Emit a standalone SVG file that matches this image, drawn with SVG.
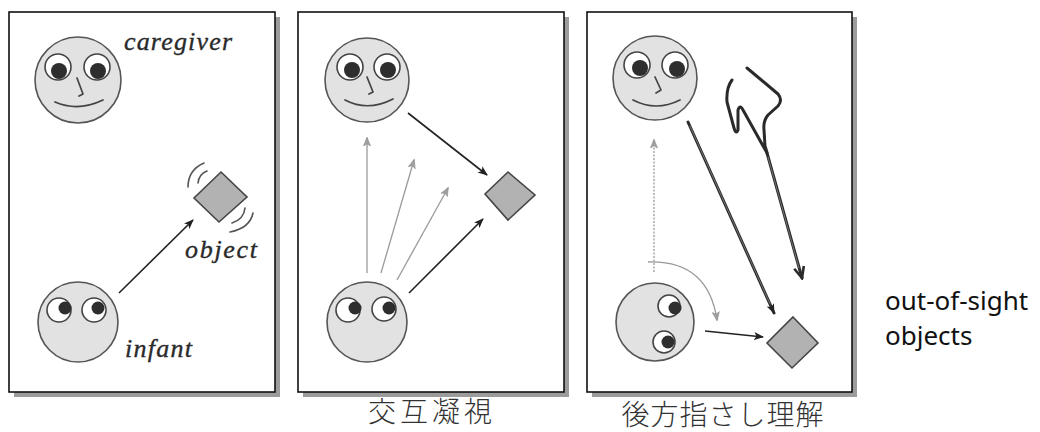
<svg xmlns="http://www.w3.org/2000/svg" width="1040" height="432" viewBox="0 0 1040 432">
  <style>
    .panel { fill: #fff; stroke: #111; stroke-width: 1.6; }
    .shadow { fill: #9c9c9c; }
    .face { fill: #e2e2e2; stroke: #555; stroke-width: 1.6; }
    .eye { fill: #fff; stroke: #444; stroke-width: 1.6; }
    .pupil { fill: #2e2e2e; }
    .feat { fill: none; stroke: #444; stroke-width: 1.7; stroke-linecap: round; stroke-linejoin: round; }
    .obj { fill: #b2b2b2; stroke: #444; stroke-width: 1.6; }
    .wave { fill: none; stroke: #555; stroke-width: 1.6; stroke-linecap: round; }
    .gaze { fill: none; stroke: #222; stroke-width: 1.6; }
    .gaze-soft { fill: none; stroke: #9a9a9a; stroke-width: 1.3; }
    .point { fill: none; stroke: #2a2a2a; stroke-width: 3; stroke-linecap: round; }
    .point-in { fill: none; stroke: #888; stroke-width: 0.8; stroke-linecap: round; }
    .hand { fill: none; stroke: #2a2a2a; stroke-width: 3; stroke-linecap: round; stroke-linejoin: round; }
    .lbl { font-family: "Liberation Serif", serif; font-style: italic; font-size: 26px; fill: #2a2a2a; stroke: #2a2a2a; stroke-width: 0.35; }
    .cap { font-family: "Noto Sans CJK JP", sans-serif; font-weight: 300; font-size: 28px; fill: #333; }
    .note { font-family: "Noto Sans", "Open Sans", sans-serif; font-size: 26px; fill: #111; }
  </style>
  <defs>
    <marker id="ah" viewBox="0 0 10 8" refX="9" refY="4" markerWidth="10" markerHeight="8" markerUnits="userSpaceOnUse" orient="auto">
      <path d="M0,0 L10,4 L0,8 L2.5,4 Z" fill="#222"/>
    </marker>
    <marker id="ah-soft" viewBox="0 0 10 8" refX="9" refY="4" markerWidth="9" markerHeight="8" markerUnits="userSpaceOnUse" orient="auto">
      <path d="M0,0 L10,4 L0,8 L2.5,4 Z" fill="#a0a0a0" stroke="#888" stroke-width="0.6"/>
    </marker>
    <marker id="ah-bold" viewBox="0 0 14 12" refX="12" refY="6" markerWidth="14" markerHeight="12" markerUnits="userSpaceOnUse" orient="auto">
      <path d="M1,1 L12,6 L1,11" fill="none" stroke="#2a2a2a" stroke-width="2.6" stroke-linejoin="miter"/>
    </marker>
  </defs>

  <!-- panel frames with drop shadow -->
  <g id="frames">
    <rect class="shadow" x="14" y="17" width="266" height="380"/>
    <rect class="panel" x="9" y="12" width="266" height="380"/>
    <rect class="shadow" x="303" y="17" width="266" height="380"/>
    <rect class="panel" x="298" y="12" width="266" height="380"/>
    <rect class="shadow" x="592" y="17" width="265" height="380"/>
    <rect class="panel" x="587" y="12" width="265" height="380"/>
  </g>

  <!-- connectors -->
  <g id="connectors">
    <!-- panel 1 -->
    <line class="gaze" x1="119" y1="293" x2="193" y2="220" marker-end="url(#ah)"/>
    <!-- panel 2 -->
    <line class="gaze" x1="408" y1="113" x2="487" y2="175" marker-end="url(#ah)"/>
    <line class="gaze-soft" x1="367" y1="273" x2="367" y2="138" marker-end="url(#ah-soft)"/>
    <line class="gaze-soft" x1="381" y1="273" x2="414" y2="160" marker-end="url(#ah-soft)"/>
    <line class="gaze-soft" x1="397" y1="280" x2="448" y2="188" marker-end="url(#ah-soft)"/>
    <line class="gaze" x1="409" y1="293" x2="483" y2="219" marker-end="url(#ah)"/>
    <!-- panel 3 -->
    <line class="gaze-soft" x1="654" y1="272" x2="654" y2="140" stroke-dasharray="2 1.5" marker-end="url(#ah-soft)"/>
    <path class="gaze-soft" d="M648,262 Q708,260 717,320" marker-end="url(#ah-soft)"/>
    <line class="gaze" x1="705" y1="331" x2="763" y2="337" marker-end="url(#ah)"/>
    <line class="point" x1="688" y1="122" x2="774" y2="313" marker-end="url(#ah)"/>
    <line class="point-in" x1="690" y1="126" x2="770" y2="304"/>
    <line class="point" x1="767" y1="153" x2="802" y2="278" marker-end="url(#ah-bold)"/>
    <line class="point-in" x1="768" y1="157" x2="799" y2="268"/>
  </g>

  <!-- panel 1 -->
  <g id="caregiver-1">
    <circle class="face" cx="78" cy="80" r="43"/>
    <circle class="eye" cx="58" cy="67" r="13"/>
    <circle class="pupil" cx="59" cy="71" r="8"/>
    <circle class="eye" cx="97" cy="67" r="13"/>
    <circle class="pupil" cx="98" cy="71" r="8"/>
    <path class="feat" d="M77,78 L83,94 L79,96"/>
    <path class="feat" d="M55,102 Q78,112 103,100"/>
    <text class="lbl" x="124" y="50" textLength="108">caregiver</text>
  </g>
  <g id="object-1">
    <polygon class="obj" points="221,172 247,197 219,222 194,198"/>
    <path class="wave" d="M188,187 Q188,170 204,163"/>
    <path class="wave" d="M198,183 Q199,174 207,171"/>
    <path class="wave" d="M232,223 Q244,219 245,208"/>
    <path class="wave" d="M230,232 Q250,228 253,213"/>
    <text class="lbl" x="185" y="258" textLength="72">object</text>
  </g>
  <g id="infant-1">
    <circle class="face" cx="78" cy="322" r="40"/>
    <circle class="eye" cx="59" cy="310" r="12"/>
    <circle class="pupil" cx="65" cy="308" r="6.5"/>
    <circle class="eye" cx="94" cy="310" r="12"/>
    <circle class="pupil" cx="98" cy="308" r="6.5"/>
    <text class="lbl" x="125" y="357" textLength="67">infant</text>
  </g>

  <!-- panel 2 -->
  <g id="caregiver-2">
    <circle class="face" cx="367" cy="80" r="42"/>
    <circle class="eye" cx="350" cy="67" r="13"/>
    <circle class="pupil" cx="352" cy="70" r="8"/>
    <circle class="eye" cx="387" cy="67" r="13"/>
    <circle class="pupil" cx="388" cy="70" r="8"/>
    <path class="feat" d="M367,77 L373,92 L369,94"/>
    <path class="feat" d="M345,100 Q368,112 393,99"/>
  </g>
  <g id="object-2">
    <polygon class="obj" points="508,172 535,195 508,220 485,194"/>
  </g>
  <g id="infant-2">
    <circle class="face" cx="367" cy="322" r="40"/>
    <circle class="eye" cx="348" cy="310" r="12"/>
    <circle class="pupil" cx="355" cy="308" r="6.5"/>
    <circle class="eye" cx="384" cy="309" r="12"/>
    <circle class="pupil" cx="389" cy="308" r="6.5"/>
  </g>
  <text class="cap" x="432" y="422" text-anchor="middle" letter-spacing="4">交互凝視</text>

  <!-- panel 3 -->
  <g id="caregiver-3">
    <circle class="face" cx="655" cy="78" r="42"/>
    <circle class="eye" cx="637" cy="65" r="13"/>
    <circle class="pupil" cx="640" cy="68" r="8"/>
    <circle class="eye" cx="675" cy="65" r="13"/>
    <circle class="pupil" cx="677" cy="69" r="8"/>
    <path class="feat" d="M655,77 L661,90 L656,93"/>
    <path class="feat" d="M633,100 Q656,112 680,100"/>
  </g>
  <g id="hand">
    <path class="hand" d="M747,68 L778,94 Q783,100 778,106 L768,115 Q763,121 764,130 L765,146 Q767,152 767,153 L743,110 Q740,104 738,110 L738,130 Q736,135 734,128 L727,102 Q726,88 732,80"/>
  </g>
  <g id="infant-3">
    <circle class="face" cx="655" cy="322" r="39"/>
    <circle class="eye" cx="669" cy="306" r="11"/>
    <circle class="pupil" cx="675" cy="308" r="6.5"/>
    <circle class="eye" cx="664" cy="342" r="11"/>
    <circle class="pupil" cx="668" cy="342" r="6.5"/>
  </g>
  <g id="object-3">
    <polygon class="obj" points="793,317 818,343 792,368 767,343"/>
  </g>
  <text class="cap" x="723" y="425" text-anchor="middle" letter-spacing="1">後方指さし理解</text>

  <text class="note" x="885" y="310">out-of-sight</text>
  <text class="note" x="885" y="345">objects</text>
</svg>
